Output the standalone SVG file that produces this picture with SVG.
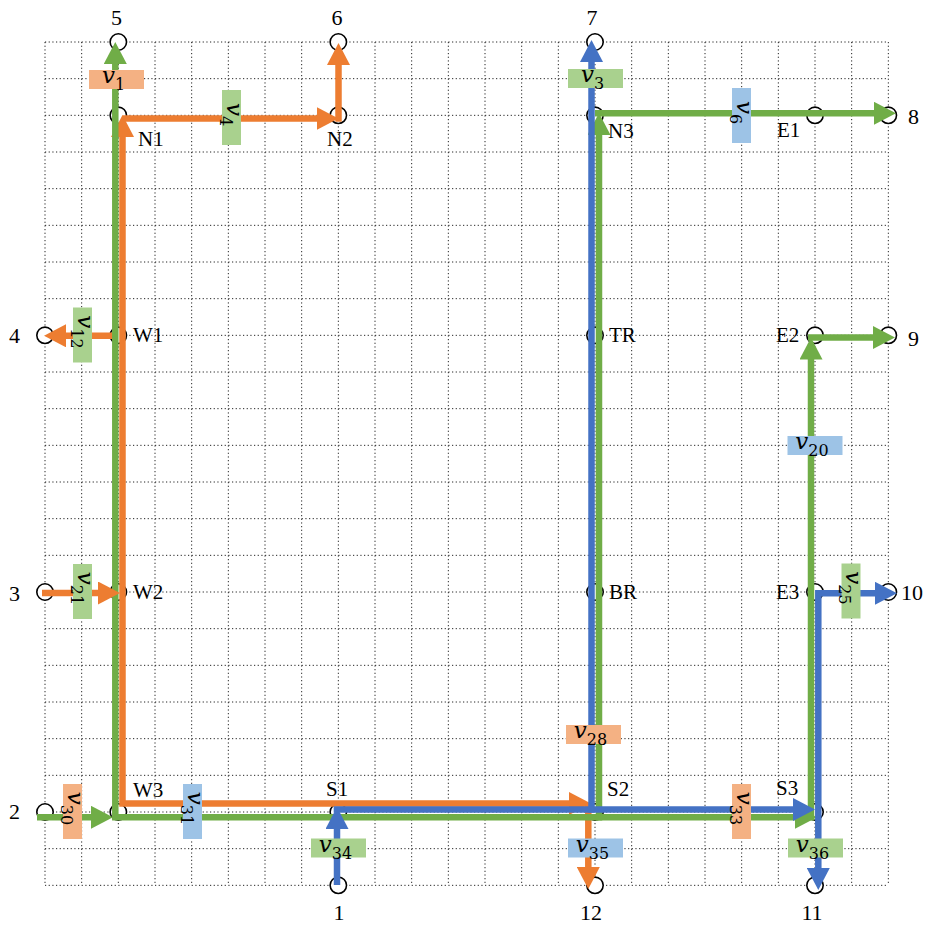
<svg xmlns="http://www.w3.org/2000/svg" width="930" height="927" viewBox="0 0 930 927">
  <style>
    .grid { fill: none; stroke: #222; stroke-width: 1; stroke-dasharray: 1.2 2.467; }
    .node circle { fill: #fff; stroke: #000; stroke-width: 1.6; }
    .num { font-family: "Liberation Serif", "DejaVu Serif", serif; font-size: 22px; fill: #000; }
    .name { font-family: "Liberation Serif", "DejaVu Serif", serif; font-size: 21px; fill: #000; }
    .ln { fill: none; stroke-width: 6.5; stroke-linejoin: miter; stroke-linecap: butt; }
    .or { stroke: #ED7D31; }
    .gr { stroke: #70AD47; }
    .bl { stroke: #4472C4; }
    .box-or { fill: #F4B183; }
    .box-gr { fill: #A9D18E; }
    .box-bl { fill: #9DC3E6; }
    .vt { font-family: "DejaVu Serif", "Liberation Serif", serif; font-size: 23px; font-style: italic; fill: #000; text-anchor: middle; }
    .sub { font-size: 16px; font-style: normal; }
  </style>
  <defs>
    <marker id="ah-or" markerUnits="userSpaceOnUse" markerWidth="22" markerHeight="23" refX="2" refY="11.5" orient="auto-start-reverse">
      <path d="M0,0 L22,11.5 L0,23 Z" fill="#ED7D31"/>
    </marker>
    <marker id="ah-gr" markerUnits="userSpaceOnUse" markerWidth="22" markerHeight="23" refX="2" refY="11.5" orient="auto-start-reverse">
      <path d="M0,0 L22,11.5 L0,23 Z" fill="#70AD47"/>
    </marker>
    <marker id="ah-bl" markerUnits="userSpaceOnUse" markerWidth="22" markerHeight="23" refX="2" refY="11.5" orient="auto-start-reverse">
      <path d="M0,0 L22,11.5 L0,23 Z" fill="#4472C4"/>
    </marker>
  </defs>

  <rect width="930" height="927" fill="#fff"/>

  <!-- dotted background grid, 23 x 23 cells -->
  <g id="grid">
    <path class="grid" d="M45,42V885.33M81.67,42V885.33M118.33,42V885.33M155,42V885.33M191.67,42V885.33M228.33,42V885.33M265,42V885.33M301.67,42V885.33M338.33,42V885.33M375,42V885.33M411.67,42V885.33M448.33,42V885.33M485,42V885.33M521.67,42V885.33M558.33,42V885.33M595,42V885.33M631.67,42V885.33M668.33,42V885.33M705,42V885.33M741.67,42V885.33M778.33,42V885.33M815,42V885.33M851.67,42V885.33M888.33,42V885.33"/>
    <path class="grid" d="M45,42H888.33M45,78.67H888.33M45,115.33H888.33M45,152H888.33M45,188.67H888.33M45,225.33H888.33M45,262H888.33M45,298.67H888.33M45,335.33H888.33M45,372H888.33M45,408.67H888.33M45,445.33H888.33M45,482H888.33M45,518.67H888.33M45,555.33H888.33M45,592H888.33M45,628.67H888.33M45,665.33H888.33M45,702H888.33M45,738.67H888.33M45,775.33H888.33M45,812H888.33M45,848.67H888.33M45,885.33H888.33"/>
  </g>

  <!-- nodes -->
  <g id="nodes">
    <g id="n5" class="node"><circle cx="118.33" cy="42" r="8.2"/><text class="num" x="116.5" y="25" text-anchor="middle">5</text></g>
    <g id="n6" class="node"><circle cx="338.33" cy="42" r="8.2"/><text class="num" x="337" y="25" text-anchor="middle">6</text></g>
    <g id="n7" class="node"><circle cx="595" cy="42" r="8.2"/><text class="num" x="592" y="25" text-anchor="middle">7</text></g>
    <g id="N1" class="node"><circle cx="118.33" cy="115.33" r="8.2"/><text class="name" x="138" y="146">N1</text></g>
    <g id="N2" class="node"><circle cx="338.33" cy="115.33" r="8.2"/><text class="name" x="327" y="146">N2</text></g>
    <g id="N3" class="node"><circle cx="595" cy="115.33" r="8.2"/><text class="name" x="608" y="138">N3</text></g>
    <g id="E1" class="node"><circle cx="815" cy="115.33" r="8.2"/><text class="name" x="777" y="137">E1</text></g>
    <g id="n8" class="node"><circle cx="888.33" cy="115.33" r="8.2"/><text class="num" x="908" y="124">8</text></g>
    <g id="n4" class="node"><circle cx="45" cy="335.33" r="8.2"/><text class="num" x="9" y="343">4</text></g>
    <g id="W1" class="node"><circle cx="118.33" cy="335.33" r="8.2"/><text class="name" x="133" y="342">W1</text></g>
    <g id="TR" class="node"><circle cx="595" cy="335.33" r="8.2"/><text class="name" x="609" y="342">TR</text></g>
    <g id="E2" class="node"><circle cx="815" cy="335.33" r="8.2"/><text class="name" x="776" y="342">E2</text></g>
    <g id="n9" class="node"><circle cx="888.33" cy="335.33" r="8.2"/><text class="num" x="908" y="346">9</text></g>
    <g id="n3" class="node"><circle cx="45" cy="592" r="8.2"/><text class="num" x="9" y="601">3</text></g>
    <g id="W2" class="node"><circle cx="118.33" cy="592" r="8.2"/><text class="name" x="133" y="599">W2</text></g>
    <g id="BR" class="node"><circle cx="595" cy="592" r="8.2"/><text class="name" x="609" y="599">BR</text></g>
    <g id="E3" class="node"><circle cx="815" cy="592" r="8.2"/><text class="name" x="776" y="599">E3</text></g>
    <g id="n10" class="node"><circle cx="888.33" cy="592" r="8.2"/><text class="num" x="901" y="600">10</text></g>
    <g id="n2" class="node"><circle cx="45" cy="812" r="8.2"/><text class="num" x="9" y="819">2</text></g>
    <g id="W3" class="node"><circle cx="118.33" cy="812" r="8.2"/><text class="name" x="133" y="797">W3</text></g>
    <g id="S1" class="node"><circle cx="338.33" cy="812" r="8.2"/><text class="name" x="326" y="796">S1</text></g>
    <g id="S2" class="node"><circle cx="595" cy="812" r="8.2"/><text class="name" x="607" y="796">S2</text></g>
    <g id="S3" class="node"><circle cx="815" cy="812" r="8.2"/><text class="name" x="776" y="795">S3</text></g>
    <g id="n1" class="node"><circle cx="338.33" cy="885.33" r="8.2"/><text class="num" x="339" y="920" text-anchor="middle">1</text></g>
    <g id="n12" class="node"><circle cx="595" cy="885.33" r="8.2"/><text class="num" x="591" y="920" text-anchor="middle">12</text></g>
    <g id="n11" class="node"><circle cx="815" cy="885.33" r="8.2"/><text class="num" x="812" y="920" text-anchor="middle">11</text></g>
  </g>

  <!-- connectors -->
  <g id="connectors">
    <!-- orange routes -->
    <path class="ln or" d="M122.5,135 V803.5 H571" marker-start="url(#ah-or)" marker-end="url(#ah-or)"/>
    <path class="ln or" d="M122.5,118.5 H318.5" marker-end="url(#ah-or)"/>
    <path class="ln or" d="M338.5,121.75 V63" marker-end="url(#ah-or)"/>
    <path class="ln or" d="M118,335.8 H64" marker-end="url(#ah-or)"/>
    <path class="ln or" d="M588.3,803.5 V869" marker-end="url(#ah-or)"/>
    <!-- green routes -->
    <path class="ln gr" d="M115.3,62 V817.3 H797" marker-start="url(#ah-gr)" marker-end="url(#ah-gr)"/>
    <path class="ln gr" d="M37,817.3 H93" marker-end="url(#ah-gr)"/>
    <path class="ln gr" d="M599,820.5 V133" marker-end="url(#ah-gr)"/>
    <path class="ln gr" d="M595,113.3 H876" marker-end="url(#ah-gr)"/>
    <path class="ln gr" d="M811,820.5 V357.5" marker-end="url(#ah-gr)"/>
    <path class="ln gr" d="M808,337.5 H875" marker-end="url(#ah-gr)"/>
    <!-- orange inflow at W2 -->
    <path class="ln or" d="M42,593 H100" marker-end="url(#ah-or)"/>
    <!-- blue routes -->
    <path class="ln bl" d="M337,885 V827" marker-end="url(#ah-bl)"/>
    <path class="ln bl" d="M333.7,809.5 H795" marker-end="url(#ah-bl)"/>
    <path class="ln bl" d="M591.5,812.75 V60" marker-end="url(#ah-bl)"/>
    <path class="ln bl" d="M818.3,870 V593.3 H877" marker-start="url(#ah-bl)" marker-end="url(#ah-bl)"/>
  </g>

  <!-- flow labels -->
  <g id="edge-labels">
    <g id="lv1"><rect class="box-or" x="89" y="70" width="55" height="19"/><text class="vt" x="113.5" y="83">v<tspan class="sub" dy="7">1</tspan></text></g>
    <g id="lv3"><rect class="box-gr" x="568" y="69" width="55" height="19"/><text class="vt" x="592.5" y="82">v<tspan class="sub" dy="7">3</tspan></text></g>
    <g id="lv34"><rect class="box-gr" x="311" y="838.5" width="55" height="19"/><text class="vt" x="335.5" y="851.5">v<tspan class="sub" dy="7">34</tspan></text></g>
    <g id="lv28"><rect class="box-or" x="566" y="725" width="55" height="19"/><text class="vt" x="590.5" y="738">v<tspan class="sub" dy="7">28</tspan></text></g>
    <g id="lv35"><rect class="box-bl" x="568" y="838.5" width="55" height="19"/><text class="vt" x="592.5" y="851.5">v<tspan class="sub" dy="7">35</tspan></text></g>
    <g id="lv36"><rect class="box-gr" x="788" y="838.5" width="55" height="19"/><text class="vt" x="812.5" y="851.5">v<tspan class="sub" dy="7">36</tspan></text></g>
    <g id="lv20"><rect class="box-bl" x="787.5" y="436" width="55" height="19"/><text class="vt" x="812" y="449">v<tspan class="sub" dy="7">20</tspan></text></g>

    <g id="lv4"><rect class="box-gr" x="222" y="90" width="19" height="55"/><text class="vt" transform="translate(231.5,117.5) rotate(90)" x="-3" y="5">v<tspan class="sub" dy="7">4</tspan></text></g>
    <g id="lv6"><rect class="box-bl" x="732" y="88" width="19" height="55"/><text class="vt" transform="translate(741.5,115.5) rotate(90)" x="-3" y="5">v<tspan class="sub" dy="7">6</tspan></text></g>
    <g id="lv12"><rect class="box-gr" x="73" y="307.5" width="19" height="55"/><text class="vt" transform="translate(82.5,335) rotate(90)" x="-3" y="5">v<tspan class="sub" dy="7">12</tspan></text></g>
    <g id="lv21"><rect class="box-gr" x="73" y="564" width="19" height="55"/><text class="vt" transform="translate(82.5,591.5) rotate(90)" x="-3" y="5">v<tspan class="sub" dy="7">21</tspan></text></g>
    <g id="lv30"><rect class="box-or" x="63" y="784" width="19" height="55"/><text class="vt" transform="translate(72.5,811.5) rotate(90)" x="-3" y="5">v<tspan class="sub" dy="7">30</tspan></text></g>
    <g id="lv31"><rect class="box-bl" x="183" y="784" width="19" height="55"/><text class="vt" transform="translate(192.5,811.5) rotate(90)" x="-3" y="5">v<tspan class="sub" dy="7">31</tspan></text></g>
    <g id="lv33"><rect class="box-or" x="732" y="784" width="19" height="55"/><text class="vt" transform="translate(741.5,811.5) rotate(90)" x="-3" y="5">v<tspan class="sub" dy="7">33</tspan></text></g>
    <g id="lv25"><rect class="box-gr" x="841.5" y="563.5" width="19" height="55"/><text class="vt" transform="translate(851,591) rotate(90)" x="-3" y="5">v<tspan class="sub" dy="7">25</tspan></text></g>
  </g>
</svg>
